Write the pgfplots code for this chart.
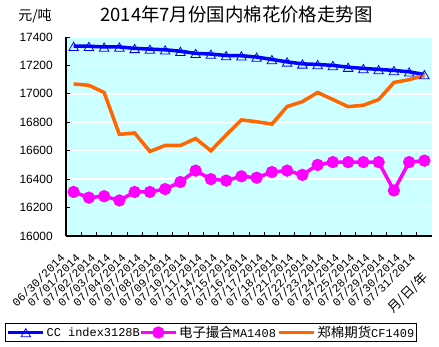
\documentclass[border=0pt]{standalone}
\usepackage{fontspec}
\setmainfont{Liberation Sans}
\setmonofont{Liberation Mono}
\newfontfamily\cjk{Noto Sans CJK SC}
\usepackage{pgfplots}
\usepackage{pgfplotstable}
\pgfplotsset{compat=1.18}
\definecolor{bgc}{HTML}{CCFFFF}
\definecolor{ccblue}{HTML}{0000FF}
\definecolor{mag}{HTML}{FF00FF}
\definecolor{org}{HTML}{FF6600}

\pgfplotstableread{
x cc ma cf
0 17335 16310 17070
1 17335 16270 17060
2 17330 16280 17010
3 17330 16250 16715
4 17320 16310 16725
5 17315 16310 16595
6 17310 16330 16637
7 17300 16380 16637
8 17285 16460 16686
9 17280 16400 16600
10 17270 16390 16710
11 17268 16420 16817
12 17259 16410 16804
13 17242 16450 16787
14 17225 16460 16911
15 17211 16430 16945
16 17207 16500 17010
17 17200 16520 16960
18 17188 16520 16910
19 17179 16520 16920
20 17172 16520 16960
21 17165 16320 17080
22 17155 16520 17100
23 17136 16530 17130
}\data

\begin{document}
\begin{tikzpicture}[x=1bp,y=1bp]
\path[use as bounding box] (0,0) rectangle (439,346);
\begin{axis}[
  at={(66bp,110bp)}, anchor=south west,
  width=366bp, height=199bp, scale only axis,
  xmin=-0.5, xmax=23.5, ymin=16000, ymax=17400,
  axis background/.style={fill=bgc},
  axis x line*=bottom, axis y line*=left,
  axis line style={-, line width=1.2bp, black},
  ytick={16000,16200,...,17400},
  scaled y ticks=false,
  ymajorgrids, grid style={white, line width=1.5bp},
  major tick length=4bp, minor tick length=4bp,
  tick style={black, line width=0.8bp},
  xtick={0,...,23},
  xticklabels={06/30/2014,07/01/2014,07/02/2014,07/03/2014,07/04/2014,07/07/2014,07/08/2014,07/09/2014,07/10/2014,07/11/2014,07/14/2014,07/15/2014,07/16/2014,07/17/2014,07/18/2014,07/21/2014,07/22/2014,07/23/2014,07/24/2014,07/25/2014,07/28/2014,07/29/2014,07/30/2014,07/31/2014},
  major x tick style={draw=none},
  minor xtick={0.5,1.5,...,22.5},
  xticklabel style={xshift=-11bp, rotate=45, anchor=east, inner sep=0pt, font=\ttfamily\fontsize{11.5}{11.5}\selectfont},
  xticklabel shift=20bp,
  yticklabel style={font=\fontsize{12}{14}\selectfont, inner sep=0pt, xshift=-13bp},
  /pgf/number format/1000 sep={}, /pgf/number format/assume math mode=true,
  legend columns=3,
  legend style={at={(axis description cs:-0.1667,-0.533)}, anchor=south west, draw=black, line width=1.2bp, inner xsep=1bp, inner ysep=1bp, nodes={inner sep=1.5bp}, /tikz/every even column/.append style={column sep=0pt}, /tikz/every odd column/.append style={column sep=0pt}},
  legend image code/.code={\draw[mark repeat=2,mark phase=2,#1] plot coordinates {(0bp,0bp) (17.5bp,0bp) (35bp,0bp)};},
]
\addplot[ccblue, line width=3.5bp, mark=triangle, mark size=5.5bp, mark options={solid, draw=ccblue, fill=none, line width=0.8bp, yshift=-1.5bp}] table[x=x,y=cc]{\data};
\addlegendentry{\makebox[91bp][l]{\ttfamily\fontsize{12}{14}\selectfont CC index3128B}}
\addplot[mag, line width=3.5bp, mark=*, mark size=4.3bp, mark options={solid, fill=mag, draw=mag}] table[x=x,y=ma]{\data};
\addlegendentry{{\cjk\fontsize{13.5}{16}\selectfont 电子撮合{\ttfamily\fontsize{12}{14}\selectfont MA1408}}}
\addplot[org, line width=3.5bp] table[x=x,y=cf]{\data};
\addlegendentry{{\cjk\fontsize{13.5}{16}\selectfont 郑棉期货{\ttfamily\fontsize{12}{14}\selectfont CF1409}}}
\end{axis}
\node[font=\cjk\fontsize{18.5}{20}\selectfont] at (236.5,331) {2014年7月份国内棉花价格走势图};
\node[font=\cjk\fontsize{14}{16}\selectfont] at (35,330) {元/吨};
\node[font=\cjk\fontsize{13}{14}\selectfont, rotate=45] at (408,53) {月/日/年};
\end{tikzpicture}
\end{document}
